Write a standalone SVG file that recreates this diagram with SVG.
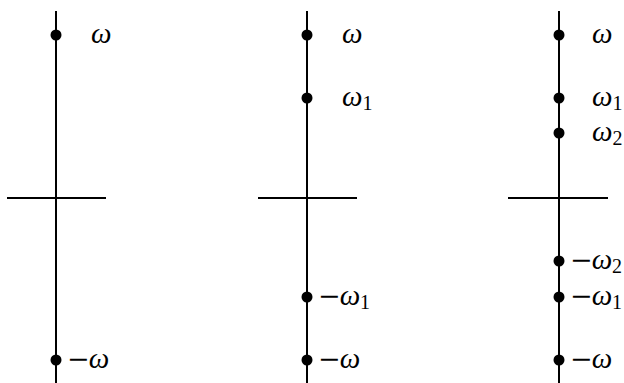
<svg xmlns="http://www.w3.org/2000/svg" width="624" height="383" viewBox="0 0 624 383">
<style>
.ax{stroke:#000;stroke-width:2;fill:none}
.dot{fill:#000}
.lb{font-family:"Liberation Serif",serif;font-size:29px;fill:#000}
.w{font-style:italic}
.m{font-family:"DejaVu Serif",serif;font-size:27px}
.sub{font-size:20px}
</style>
<rect width="624" height="383" fill="#fff"/>
<g id="connectors">
<line class="ax" x1="56" y1="11" x2="56" y2="383"/>
<line class="ax" x1="7" y1="198" x2="106" y2="198"/>
<line class="ax" x1="307" y1="11" x2="307" y2="383"/>
<line class="ax" x1="258" y1="198" x2="357" y2="198"/>
<line class="ax" x1="559" y1="11" x2="559" y2="383"/>
<line class="ax" x1="508" y1="198" x2="608" y2="198"/>
</g>
<g id="p1-w"><circle class="dot" cx="56" cy="35" r="5.5"/><text class="lb" x="91" y="43"><tspan class="w">ω</tspan></text></g>
<g id="p1-mw"><circle class="dot" cx="56" cy="360" r="5.5"/><text class="lb" x="67" y="368"><tspan class="m">−</tspan><tspan class="w" dx="-1">ω</tspan></text></g>
<g id="p2-w"><circle class="dot" cx="307" cy="35" r="5.5"/><text class="lb" x="342" y="43"><tspan class="w">ω</tspan></text></g>
<g id="p2-w1"><circle class="dot" cx="307" cy="98" r="5.5"/><text class="lb" x="342" y="106"><tspan class="w">ω</tspan><tspan class="sub" dy="4">1</tspan></text></g>
<g id="p2-mw1"><circle class="dot" cx="307" cy="297" r="5.5"/><text class="lb" x="318" y="305"><tspan class="m">−</tspan><tspan class="w" dx="-1">ω</tspan><tspan class="sub" dy="4">1</tspan></text></g>
<g id="p2-mw"><circle class="dot" cx="307" cy="360" r="5.5"/><text class="lb" x="318" y="368"><tspan class="m">−</tspan><tspan class="w" dx="-1">ω</tspan></text></g>
<g id="p3-w"><circle class="dot" cx="559" cy="35" r="5.5"/><text class="lb" x="592" y="43"><tspan class="w">ω</tspan></text></g>
<g id="p3-w1"><circle class="dot" cx="559" cy="98" r="5.5"/><text class="lb" x="592" y="106"><tspan class="w">ω</tspan><tspan class="sub" dy="4">1</tspan></text></g>
<g id="p3-w2"><circle class="dot" cx="559" cy="133" r="5.5"/><text class="lb" x="592" y="141"><tspan class="w">ω</tspan><tspan class="sub" dy="4">2</tspan></text></g>
<g id="p3-mw2"><circle class="dot" cx="559" cy="261" r="5.5"/><text class="lb" x="570" y="269"><tspan class="m">−</tspan><tspan class="w" dx="-1">ω</tspan><tspan class="sub" dy="4">2</tspan></text></g>
<g id="p3-mw1"><circle class="dot" cx="559" cy="297" r="5.5"/><text class="lb" x="570" y="305"><tspan class="m">−</tspan><tspan class="w" dx="-1">ω</tspan><tspan class="sub" dy="4">1</tspan></text></g>
<g id="p3-mw"><circle class="dot" cx="559" cy="360" r="5.5"/><text class="lb" x="570" y="368"><tspan class="m">−</tspan><tspan class="w" dx="-1">ω</tspan></text></g>
</svg>
